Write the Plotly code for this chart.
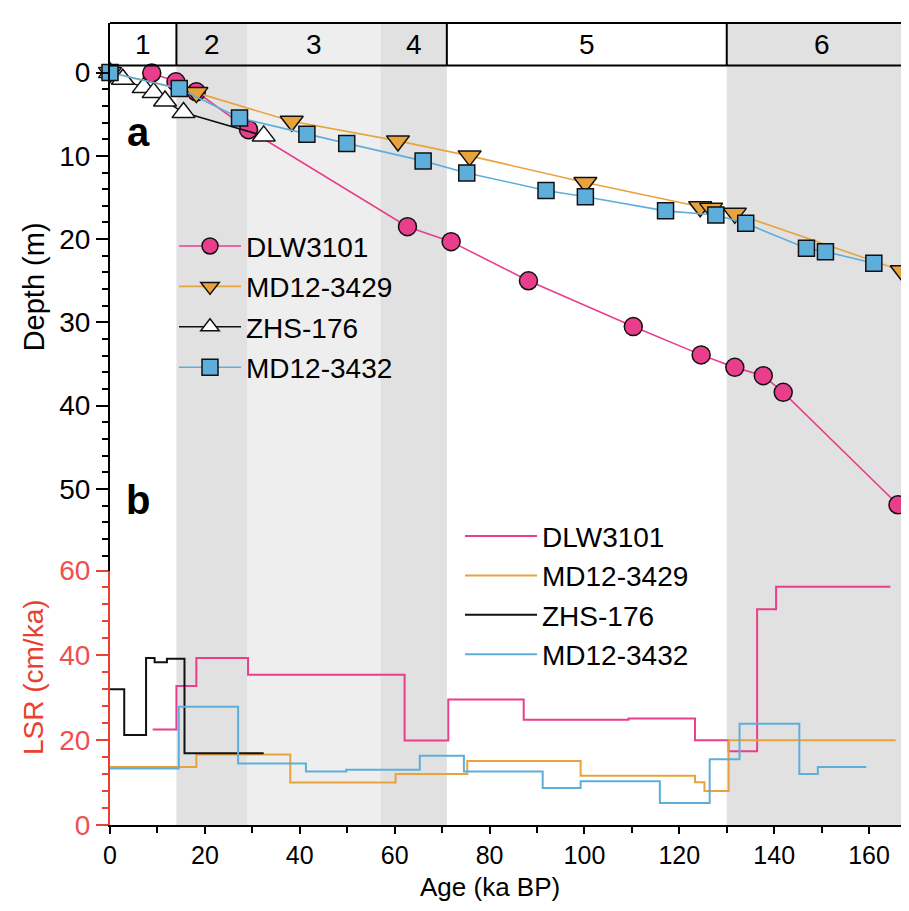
import plotly.graph_objects as go

# ---------------- data ----------------
# Panel a: age (ka BP) vs depth (m)
dlw_age = [8.8, 13.9, 18.2, 29.2, 62.7, 71.9, 88.2, 110.3, 124.6, 131.7, 137.7, 141.9, 166.1]
dlw_depth = [0.05, 1.1, 2.3, 6.85, 18.5, 20.3, 25.0, 30.5, 33.9, 35.4, 36.4, 38.4, 51.9]

md29_age = [0, 18.2, 38.3, 60.7, 75.8, 100.2, 124.4, 126.7, 131.7, 166.9]
md29_depth = [0, 2.4, 5.85, 8.2, 10.0, 13.2, 16.1, 16.3, 16.9, 23.8]

zhs_age = [0, 2.7, 7.1, 9.2, 11.6, 15.5, 32.4]
zhs_depth = [0, 0.8, 1.8, 2.4, 3.4, 4.8, 7.6]

md32_age = [0, 14.6, 27.3, 41.5, 49.9, 66.0, 75.2, 91.9, 100.2, 117.1, 127.7, 134.0, 146.8, 150.8, 161.0]
md32_depth = [0, 1.9, 5.45, 7.4, 8.5, 10.6, 12.05, 14.15, 14.9, 16.6, 17.1, 18.1, 21.1, 21.5, 22.9]

# Panel b: linear sedimentation rate (cm/ka), step boundaries and rates
dlw_lsr_age = [9.0, 14.0, 18.2, 29.1, 62.1, 71.3, 87.2, 109.3, 123.3, 130.4, 136.4, 140.4, 164.5]
dlw_lsr = [22.5, 32.8, 39.4, 35.4, 19.9, 29.6, 24.8, 25.1, 20.0, 17.4, 50.9, 56.2]

md29_lsr_age = [0, 18.2, 38.0, 60.2, 75.3, 99.2, 123.3, 125.3, 130.4, 165.6]
md29_lsr = [13.7, 16.6, 10.0, 12.0, 15.1, 11.6, 10.1, 8.0, 20.0]

zhs_lsr_age = [0, 3.0, 7.6, 9.4, 12.0, 15.7, 32.4]
zhs_lsr = [32.0, 21.2, 39.4, 38.4, 39.2, 16.9]

md32_lsr_age = [0, 14.5, 27.0, 41.3, 49.8, 65.3, 74.6, 91.2, 99.2, 115.9, 126.4, 132.7, 145.3, 149.2, 159.4]
md32_lsr = [13.3, 27.9, 14.5, 12.6, 13.0, 16.3, 12.6, 8.7, 10.3, 5.2, 15.5, 23.9, 12.0, 13.7]

# Marine isotope stages
mis_labels = ["1", "2", "3", "4", "5", "6"]
mis_start = [0, 14, 29, 57, 71, 130]
X_MAX = 170.1
mis_end = [14, 29, 57, 71, 130, X_MAX]
mis_fill = ["white", "#e1e1e1", "#eeeeee", "#e1e1e1", "white", "#e1e1e1"]

series_names = ["DLW3101", "MD12-3429", "ZHS-176", "MD12-3432"]
colors = ["#e83e8c", "#e8a33d", "#111111", "#5eaedb"]

# ---------------- figure ----------------
FONT = "Helvetica, Liberation Sans, Arial, sans-serif"
B_TOP = 0.3173      # top of LSR panel (paper)
BOX_BOT = 0.9471    # bottom of MIS label box (paper)

W, H = 909, 911
L, R, T, Bm = 102, 0, 4, 94
OFF = 8  # page body margin
pw, ph = W - L - R, H - T - Bm
SX0, SY1 = OFF + L, OFF + H - Bm   # screen position of plot-area left / bottom


def px2paper(sx, sy):
    return (sx - SX0) / pw, (SY1 - sy) / ph


fig = go.Figure()

top_sets = [
    (dlw_age, dlw_depth, "circle", 18, colors[0]),
    (md29_age, md29_depth, "triangle-down", 20, colors[1]),
    (zhs_age, zhs_depth, "triangle-up", 20, "white"),
    (md32_age, md32_depth, "square", 16, colors[3]),
]
for i, (ax, dp, sym, sz, mfill) in enumerate(top_sets):
    fig.add_trace(go.Scatter(
        x=ax, y=dp, mode="lines+markers", name=series_names[i],
        line=dict(color=colors[i], width=1.6),
        marker=dict(symbol=sym, size=sz, color=mfill, line=dict(color="#111111", width=1.5)),
        yaxis="y", legend="legend", legendgroup="a" + str(i), cliponaxis=False,
    ))

bot_sets = [
    (dlw_lsr_age, dlw_lsr),
    (md29_lsr_age, md29_lsr),
    (zhs_lsr_age, zhs_lsr),
    (md32_lsr_age, md32_lsr),
]
for i, (ax, rt) in enumerate(bot_sets):
    fig.add_trace(go.Scatter(
        x=ax, y=list(rt) + [rt[-1]], mode="lines", name=series_names[i],
        line=dict(color=colors[i], width=2, shape="hv"),
        yaxis="y2", legend="legend2", legendgroup="b" + str(i), cliponaxis=False,
    ))

shapes = []
for s, e, c in zip(mis_start, mis_end, mis_fill):
    if c != "white":
        shapes.append(dict(type="rect", xref="x", yref="paper", x0=s, x1=e, y0=0, y1=1,
                           fillcolor=c, line=dict(width=0), layer="below"))
shapes.append(dict(type="line", xref="paper", yref="paper", x0=0, x1=1, y0=1, y1=1,
                   line=dict(color="black", width=2)))
shapes.append(dict(type="line", xref="paper", yref="paper", x0=0, x1=1, y0=BOX_BOT, y1=BOX_BOT,
                   line=dict(color="black", width=2)))
for b in [14, 71, 130]:
    shapes.append(dict(type="line", xref="x", yref="paper", x0=b, x1=b, y0=BOX_BOT, y1=1,
                       line=dict(color="black", width=2)))

annotations = []
for lab, s, e in zip(mis_labels, mis_start, mis_end):
    annotations.append(dict(text=lab, x=(s + e) / 2, y=(1 + BOX_BOT) / 2, xref="x", yref="paper",
                            xanchor="center", yanchor="middle",
                            showarrow=False, font=dict(size=28, color="black", family=FONT)))

pix_annots = [
    ("<b>a</b>", 138, 123, 0, 40, "black"),
    ("<b>b</b>", 138, 496, 0, 40, "black"),
    ("Depth (m)", 34, 280, -90, 29, "black"),
    ("LSR (cm/ka)", 33, 675, -90, 28, "#e8412f"),
    ("Age (ka BP)", 490, 888, 0, 26, "black"),
]
for text, sx, sy, ang, fs, col in pix_annots:
    px, py = px2paper(sx, sy)
    annotations.append(dict(text=text, x=px, y=py, xref="paper", yref="paper",
                            xanchor="center", yanchor="middle", textangle=ang, showarrow=False,
                            font=dict(size=fs, color=col, family=FONT)))

depth_major = [0, 10, 20, 30, 40, 50]
depth_minor = [v for v in range(2, 59, 2) if v % 10 != 0]
lsr_major = [0, 20, 40, 60]
lsr_minor = [v for v in range(4, 60, 4) if v % 20 != 0]
red = "#e8412f"

lg1x, lg1y = px2paper(174, 213)
lg2x, lg2y = px2paper(460, 507)

fig.update_layout(
    width=W, height=H,
    margin=dict(l=L, r=R, t=T, b=Bm, pad=0),
    paper_bgcolor="white", plot_bgcolor="white",
    font=dict(family=FONT, size=22, color="black"),
    shapes=shapes, annotations=annotations,
    xaxis=dict(range=[0, X_MAX], domain=[0, 1], anchor="y2",
               showline=True, linecolor="black", linewidth=2, showgrid=False, zeroline=False,
               tickmode="array", tickvals=[0, 20, 40, 60, 80, 100, 120, 140, 160],
               ticks="outside", ticklen=7, tickwidth=1.5, tickcolor="black",
               tickfont=dict(size=25, color="black"),
               minor=dict(tickvals=[10, 30, 50, 70, 90, 110, 130, 150, 170], ticks="outside",
                          ticklen=6, tickwidth=1.5, tickcolor="black")),
    yaxis=dict(domain=[B_TOP, 1], range=[59.8, -5.96], anchor="x",
               showline=True, linecolor="black", linewidth=2, showgrid=False, zeroline=False,
               tickmode="array", tickvals=depth_major,
               ticks="outside", ticklen=12, tickwidth=1.5, tickcolor="black",
               tickfont=dict(size=28, color="black"),
               minor=dict(tickvals=depth_minor, ticks="outside", ticklen=6,
                          tickwidth=1.5, tickcolor="black")),
    yaxis2=dict(domain=[0, B_TOP], range=[0, 60], anchor="x",
                showline=True, linecolor=red, linewidth=2, showgrid=False, zeroline=False,
                tickmode="array", tickvals=lsr_major,
                ticks="outside", ticklen=12, tickwidth=1.5, tickcolor=red,
                tickfont=dict(size=28, color="#ef4f4f"),
                minor=dict(tickvals=lsr_minor, ticks="outside", ticklen=6,
                           tickwidth=1.5, tickcolor=red)),
    legend=dict(x=lg1x, y=lg1y, xanchor="left", yanchor="top", bgcolor="rgba(0,0,0,0)",
                font=dict(size=28, family=FONT), tracegroupgap=1, itemwidth=62),
    legend2=dict(x=lg2x, y=lg2y, xanchor="left", yanchor="top", bgcolor="rgba(0,0,0,0)",
                 font=dict(size=28, family=FONT), tracegroupgap=0, itemwidth=72),
)

fig.write_html("out.html")
